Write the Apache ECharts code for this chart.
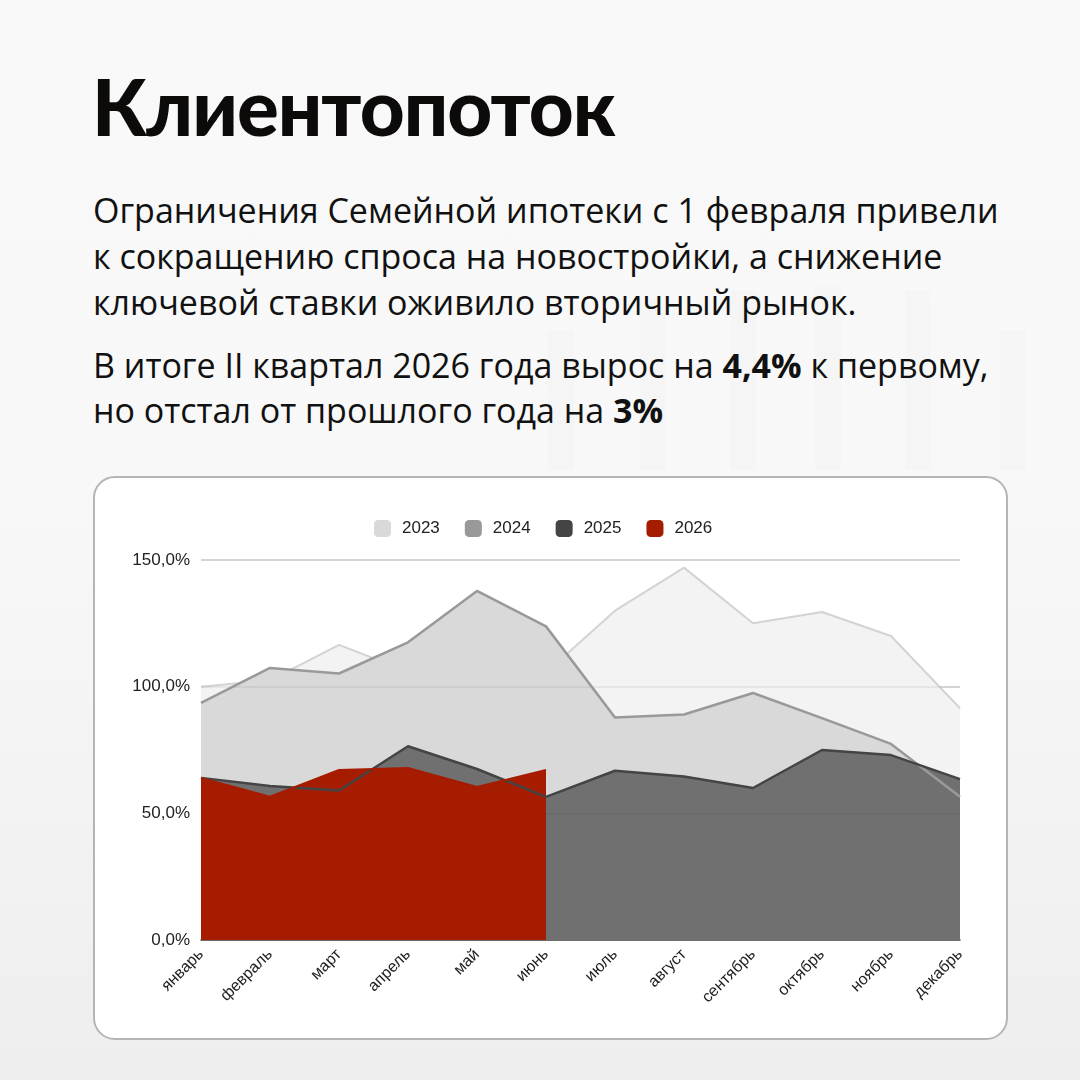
<!DOCTYPE html>
<html>
<head>
<meta charset="utf-8">
<script src="https://cdn.jsdelivr.net/npm/echarts@6/dist/echarts.min.js"></script>
<style>
  html,body{margin:0;padding:0;width:1080px;height:1080px;overflow:hidden;}
  body{background:linear-gradient(#f9f9f9 0%, #f8f8f8 45%, #eeeeee 100%);position:relative;font-family:Lato,"Open Sans",sans-serif;color:#111;}
  .title{position:absolute;left:92px;top:67px;font-size:78px;line-height:78px;font-weight:900;color:#0d0a0a;letter-spacing:-1px;white-space:nowrap;}
  .p{position:absolute;left:93px;font-family:"Open Sans",sans-serif;font-size:34px;color:#111;white-space:nowrap;}
  .p b{font-weight:700;}
  .deco{position:absolute;background:rgba(0,0,0,0.010);}
  .card{position:absolute;left:93px;top:476px;width:911px;height:560px;border:2px solid #b5b5b5;border-radius:22px;background:#fff;}
  #chart{position:absolute;left:0;top:0;width:1080px;height:1080px;}
</style>
</head>
<body>
<div class="deco" style="left:548px;top:330px;width:26px;height:140px;"></div>
<div class="deco" style="left:640px;top:300px;width:26px;height:170px;"></div>
<div class="deco" style="left:730px;top:290px;width:26px;height:180px;"></div>
<div class="deco" style="left:815px;top:285px;width:26px;height:185px;"></div>
<div class="deco" style="left:905px;top:290px;width:26px;height:180px;"></div>
<div class="deco" style="left:1000px;top:330px;width:26px;height:140px;"></div>
<div class="title">Клиентопоток</div>
<div class="p" style="top:187px;line-height:46px;">Ограничения Семейной ипотеки с 1 февраля привели<br>к сокращению спроса на новостройки, а снижение<br>ключевой ставки оживило вторичный рынок.</div>
<div class="p" style="top:343px;line-height:45px;">В итоге II квартал 2026 года вырос на <b>4,4%</b> к первому,<br>но отстал от прошлого года на <b>3%</b></div>
<div class="card"></div>
<div id="chart"></div>
<script>
const months = ['январь','февраль','март','апрель','май','июнь','июль','август','сентябрь','октябрь','ноябрь','декабрь'];
const yearNames = ['2023','2024','2025','2026'];
const v2023 = [100, 102.5, 116.5, 106, 106, 105.5, 130, 147, 125, 129.5, 120, 91.5];
const v2024 = [93.6, 107.4, 105.2, 117.5, 137.8, 123.8, 87.8, 89, 97.5, 87.6, 77.4, 56.5];
const v2025 = [64, 60.8, 59, 76.5, 67.5, 56.5, 66.8, 64.5, 60, 75, 73, 63.5];
const v2026 = [64, 56.6, 67.1, 67.9, 60.4, 67.1];
const yTicks = [0, 50, 100, 150];

const legendColors = ['#d9d9d9', '#999999', '#444444', '#a61c00'];
const fillColors = ['#f3f3f3', '#d9d9d9', '#707070', '#a61c00'];
const lineColors = ['#d3d3d3', '#999999', '#444444', '#a61c00'];
const lineWidths = [2, 2.5, 2.5, 2];
const values = [v2023, v2024, v2025, v2026];
const font = '"Liberation Sans", Arial, sans-serif';

function areaSeries(i, z) {
  return {
    name: yearNames[i], type: 'line', data: values[i], symbol: 'none', z: z,
    itemStyle: {color: legendColors[i]},
    lineStyle: {width: 0, opacity: 0},
    areaStyle: {color: fillColors[i], opacity: 1},
    silent: true
  };
}
function lineSeries(i, z) {
  return {
    name: yearNames[i], type: 'line', data: values[i], symbol: 'none', z: z,
    itemStyle: {color: legendColors[i]},
    lineStyle: {width: lineWidths[i], color: lineColors[i]},
    silent: true
  };
}

const a2025 = areaSeries(2, 3);
a2025.markLine = {
  z: 3.5, silent: true, symbol: ['none', 'none'], label: {show: false},
  lineStyle: {type: 'solid', color: 'rgba(0,0,0,0.07)', width: 1.5},
  emphasis: {disabled: true},
  data: yTicks.slice(1).map(v => ({yAxis: v}))
};

const series = [
  areaSeries(0, 1),
  lineSeries(0, 2),
  areaSeries(1, 3),
  a2025,
  areaSeries(3, 4),
  lineSeries(1, 5),
  lineSeries(2, 5),
  lineSeries(3, 5)
];

const chart = echarts.init(document.getElementById('chart'), null, {renderer: 'canvas'});
chart.setOption({
  backgroundColor: 'transparent',
  animation: false,
  textStyle: {fontFamily: font},
  legend: {
    left: 369, top: 515,
    itemWidth: 17, itemHeight: 17, itemGap: 25,
    icon: 'roundRect',
    data: yearNames.map((n, i) => ({name: n, itemStyle: {color: legendColors[i], opacity: 1, borderWidth: 0}})),
    textStyle: {fontSize: 17, color: '#222', padding: [0, 0, 0, 6], fontFamily: font}
  },
  grid: {left: 201, right: 120, top: 560, bottom: 140, containLabel: false},
  xAxis: {
    type: 'category', data: months, boundaryGap: false,
    axisLine: {show: true, lineStyle: {color: '#444', width: 1.5}},
    axisTick: {show: false},
    splitLine: {show: false},
    axisLabel: {interval: 0, rotate: 45, fontSize: 16, color: '#222', margin: 12, fontFamily: font}
  },
  yAxis: {
    type: 'value', min: yTicks[0], max: yTicks[yTicks.length - 1], interval: 50,
    axisLine: {show: false}, axisTick: {show: false},
    splitLine: {show: true, lineStyle: {color: '#d6d6d6', width: 1.5}},
    axisLabel: {fontSize: 17, color: '#222', margin: 11, formatter: v => v.toFixed(1).replace('.', ',') + '%', fontFamily: font}
  },
  series: series
});
</script>
</body>
</html>
